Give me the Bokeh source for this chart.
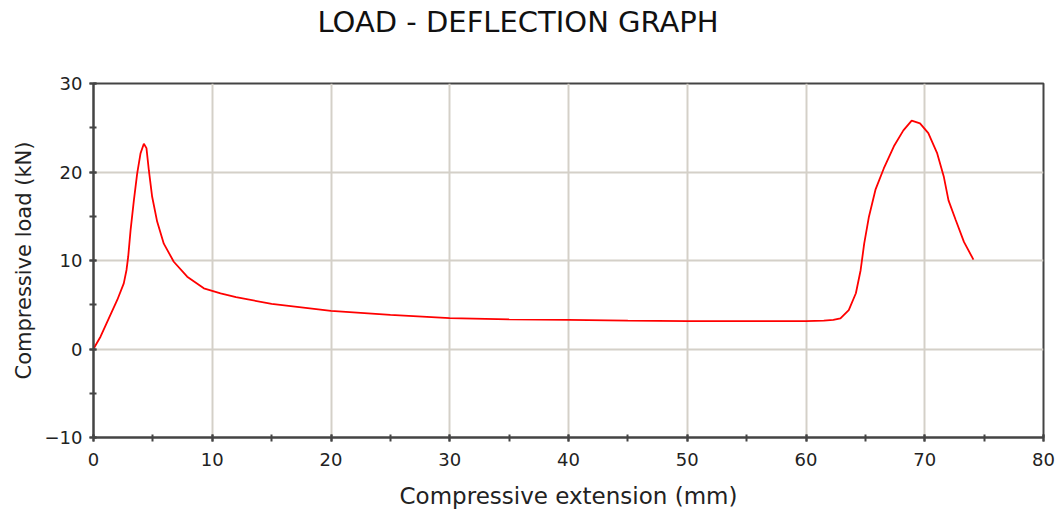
from bokeh.plotting import figure
from bokeh.models import Range1d, SingleIntervalTicker, Title
from bokeh.embed import file_html
from bokeh.resources import INLINE

extension_mm = [0, 0.03, 0.59, 1.29, 2.0, 2.55, 2.78, 2.92, 3.12, 3.40, 3.68, 3.96,
                4.24, 4.46, 4.66, 4.94, 5.36, 5.92, 6.76, 7.89, 9.29, 10.7, 12,
                15, 20, 25, 30, 35, 40, 45, 50, 55, 60, 61.5, 62.3, 62.9, 63.6,
                64.2, 64.6, 64.9, 65.3, 65.85, 66.55, 67.4, 68.2, 68.9, 69.6, 70.3,
                71.05, 71.6, 72.0, 72.6, 73.3, 74.1]
load_kn = [0, 0.08, 1.39, 3.47, 5.54, 7.42, 8.93, 10.4, 13.4, 16.8, 19.85, 22.1,
           23.2, 22.7, 20.2, 17.2, 14.4, 11.9, 9.86, 8.17, 6.86, 6.29, 5.85,
           5.1, 4.3, 3.85, 3.5, 3.35, 3.3, 3.2, 3.15, 3.15, 3.15, 3.2, 3.3, 3.47, 4.4,
           6.3, 8.9, 11.9, 14.95, 18.0, 20.4, 22.9, 24.7, 25.8, 25.5, 24.4,
           22.1, 19.5, 16.8, 14.6, 12.1, 10.1]

TITLE = "LOAD - DEFLECTION GRAPH"
FONT = "DejaVu Sans"

main_title = Title(text=TITLE, text_font=FONT, text_font_size="29px",
                   text_font_style="normal", text_color="#111111",
                   align="left", offset=224, standoff=0)

p = figure(width=1060, height=515, output_backend="svg", toolbar_location=None,
           x_range=Range1d(0, 80), y_range=Range1d(-10, 30),
           min_border_left=93, min_border_right=17, min_border_top=83,
           min_border_bottom=78, title=main_title)

# spacer panel between the frame and the main title
p.add_layout(Title(text=" ", text_font_size="1px", standoff=42), "above")

p.line(extension_mm, load_kn, line_color="#ff0000", line_width=1.8)

p.xaxis.ticker = SingleIntervalTicker(interval=10, num_minor_ticks=2)
p.yaxis.ticker = SingleIntervalTicker(interval=10, num_minor_ticks=2)
p.xaxis.axis_label = "Compressive extension (mm)"
p.yaxis.axis_label = "Compressive load (kN)"

for ax in (p.xaxis, p.yaxis):
    ax.axis_label_text_font = FONT
    ax.axis_label_text_font_style = "normal"
    ax.axis_label_text_color = "#222222"
    ax.major_label_text_font = FONT
    ax.major_label_text_font_size = "18px"
    ax.major_label_text_color = "#222222"
    ax.axis_line_color = "#444444"
    ax.axis_line_width = 2
    ax.major_tick_line_color = "#444444"
    ax.minor_tick_line_color = "#444444"
    ax.major_tick_line_width = 2
    ax.minor_tick_line_width = 2
    ax.major_tick_in = 3
    ax.major_tick_out = 4
    ax.minor_tick_in = 3
    ax.minor_tick_out = 4

p.xaxis.axis_label_text_font_size = "23px"
p.yaxis.axis_label_text_font_size = "21px"
p.xaxis.major_label_standoff = 11
p.yaxis.major_label_standoff = 7
p.xaxis.axis_label_standoff = 14
p.yaxis.axis_label_standoff = 6

p.xgrid.grid_line_color = "#d4d0c8"
p.ygrid.grid_line_color = "#d4d0c8"
p.xgrid.grid_line_width = 2
p.ygrid.grid_line_width = 2
p.outline_line_color = "#444444"
p.outline_line_width = 2
p.background_fill_color = "white"
p.border_fill_color = "white"

open("out.html", "w").write(file_html(p, INLINE))
